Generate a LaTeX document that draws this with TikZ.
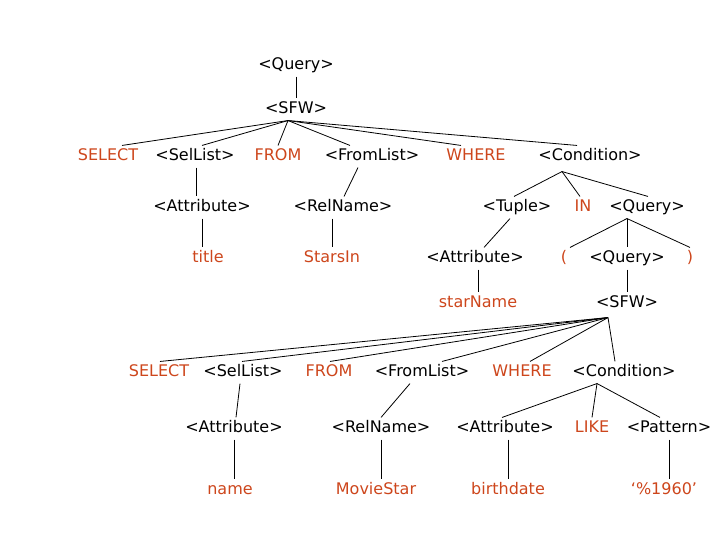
\documentclass[tikz,border=0pt]{standalone}
\usepackage{fontspec}
\setmainfont{DejaVu Sans}
\usetikzlibrary{positioning}
\definecolor{keyword}{RGB}{205,70,28}
\tikzset{
    sym/.style={font=\fontsize{16}{19}\selectfont, text height=11.5pt, text depth=3pt,
        inner xsep=1pt, inner ysep=1pt, outer ysep=2.8pt},
    nonterm/.style={sym, text=black},
    term/.style={sym, text=keyword},
    branch/.style={draw=black, line width=0.8pt},
}

\begin{document}
\begin{tikzpicture}[x=1pt, y=-1pt]
            \useasboundingbox (0,0) rectangle (720,540);
            % outer query
            \node[nonterm] (q1)     at (296,65.5)  {<Query>};
            \node[nonterm] (sfw1)   at (296,109.5) {<SFW>};
            \node[term]    (sel1)   at (108,156.5) {SELECT};
            \node[nonterm] (sl1)    at (195,156.5) {<SelList>};
            \node[term]    (from1)  at (278,156.5) {FROM};
            \node[nonterm] (fl1)    at (372,156.5) {<FromList>};
            \node[term]    (where1) at (476,156.5) {WHERE};
            \node[nonterm] (cond1)  at (590,156.5) {<Condition>};
            \node[nonterm] (attr1)  at (202,207.5) {<Attribute>};
            \node[nonterm] (rn1)    at (343,207.5) {<RelName>};
            \node[nonterm] (tup)    at (517,207.5) {<Tuple>};
            \node[term]    (in)     at (583,207.5) {IN};
            \node[nonterm] (q2)     at (647,207.5) {<Query>};
            \node[term]    (title)  at (208,258.5) {title};
            \node[term]    (si)     at (332,258.5) {StarsIn};
            \node[nonterm] (attr2)  at (475,258.5) {<Attribute>};
            \node[term]    (lp)     at (564,258.5) {(};
            \node[nonterm] (q3)     at (627,258.5) {<Query>};
            \node[term]    (rp)     at (690,258.5) {)};
            \node[term]    (sn)     at (478,303.5) {starName};
            % subquery
            \node[nonterm] (sfw2)   at (627,303.5) {<SFW>};
            \node[term]    (sel2)   at (159,372.5) {SELECT};
            \node[nonterm] (sl2)    at (243,372.5) {<SelList>};
            \node[term]    (from2)  at (329,372.5) {FROM};
            \node[nonterm] (fl2)    at (422,372.5) {<FromList>};
            \node[term]    (where2) at (522,372.5) {WHERE};
            \node[nonterm] (cond2)  at (624,372.5) {<Condition>};
            \node[nonterm] (attr3)  at (234,428.5) {<Attribute>};
            \node[nonterm] (rn2)    at (381,428.5) {<RelName>};
            \node[nonterm] (attr4)  at (505,428.5) {<Attribute>};
            \node[term]    (like)   at (592,428.5) {LIKE};
            \node[nonterm] (pat)    at (669,428.5) {<Pattern>};
            \node[term]    (name)   at (230,490.5) {name};
            \node[term]    (ms)     at (376,490.5) {MovieStar};
            \node[term]    (bd)     at (508,490.5) {birthdate};
            \node[term]    (pct)    at (664,490.5) {`\%1960'};
            % branches of the outer query
            \draw[branch] (q1.south) -- (sfw1.north);
            \coordinate (sfw1 root) at ([xshift=-8pt]sfw1.south);
            \draw[branch] (sfw1 root) -- ([xshift=14pt]sel1.north);
            \draw[branch] (sfw1 root) -- ([xshift=7pt]sl1.north);
            \draw[branch] (sfw1 root) -- (from1.north);
            \draw[branch] (sfw1 root) -- ([xshift=-22pt]fl1.north);
            \draw[branch] (sfw1 root) -- ([xshift=-15pt]where1.north);
            \draw[branch] (sfw1 root) -- ([xshift=-13pt]cond1.north);
            \draw[branch] ([xshift=1pt]sl1.south) -- ([xshift=-6pt]attr1.north);
            \draw[branch] (attr1.south) -- (attr1.south |- title.north);
            \draw[branch] ([xshift=-14pt]fl1.south) -- ([xshift=1pt]rn1.north);
            \draw[branch] (si.north |- rn1.south) -- (si.north);
            \coordinate (cond1 root) at ([xshift=-28pt,yshift=-4pt]cond1.south);
            \draw[branch] (cond1 root) -- ([xshift=-3pt]tup.north);
            \draw[branch] (cond1 root) -- ([xshift=-3pt]in.north);
            \draw[branch] (cond1 root) -- ([xshift=1pt]q2.north);
            \draw[branch] ([xshift=-7pt]tup.south) -- ([xshift=9pt]attr2.north);
            \draw[branch] (sn.north |- attr2.south) -- (sn.north);
            \coordinate (q2 root) at ([xshift=-20pt]q2.south);
            \draw[branch] (q2 root) -- ([xshift=6pt]lp.north);
            \draw[branch] (q2 root) -- (q3.north);
            \draw[branch] (q2 root) -- (rp.north);
            \draw[branch] (q3.south) -- (sfw2.north);
            % branches of the subquery
            \coordinate (sfw2 root) at ([xshift=-19pt,yshift=-3pt]sfw2.south);
            \draw[branch] (sfw2 root) -- ([xshift=1pt]sel2.north);
            \draw[branch] (sfw2 root) -- ([xshift=-1pt]sl2.north);
            \draw[branch] (sfw2 root) -- ([xshift=1pt]from2.north);
            \draw[branch] (sfw2 root) -- ([xshift=20pt]fl2.north);
            \draw[branch] (sfw2 root) -- ([xshift=8pt]where2.north);
            \draw[branch] (sfw2 root) -- ([xshift=-9pt]cond2.north);
            \draw[branch] ([xshift=-3pt]sl2.south) -- ([xshift=2pt]attr3.north);
            \draw[branch] (attr3.south) -- (attr3.south |- name.north);
            \draw[branch] ([xshift=-12pt]fl2.south) -- (rn2.north);
            \draw[branch] (rn2.south) -- (rn2.south |- ms.north);
            \coordinate (cond2 root) at ([xshift=-27pt]cond2.south);
            \draw[branch] (cond2 root) -- ([xshift=-3pt]attr4.north);
            \draw[branch] (cond2 root) -- (like.north);
            \draw[branch] (cond2 root) -- ([xshift=-9pt]pat.north);
            \draw[branch] (bd.north |- attr4.south) -- (bd.north);
            \draw[branch] (pat.south) -- (pat.south |- pct.north);
\end{tikzpicture}
\end{document}
